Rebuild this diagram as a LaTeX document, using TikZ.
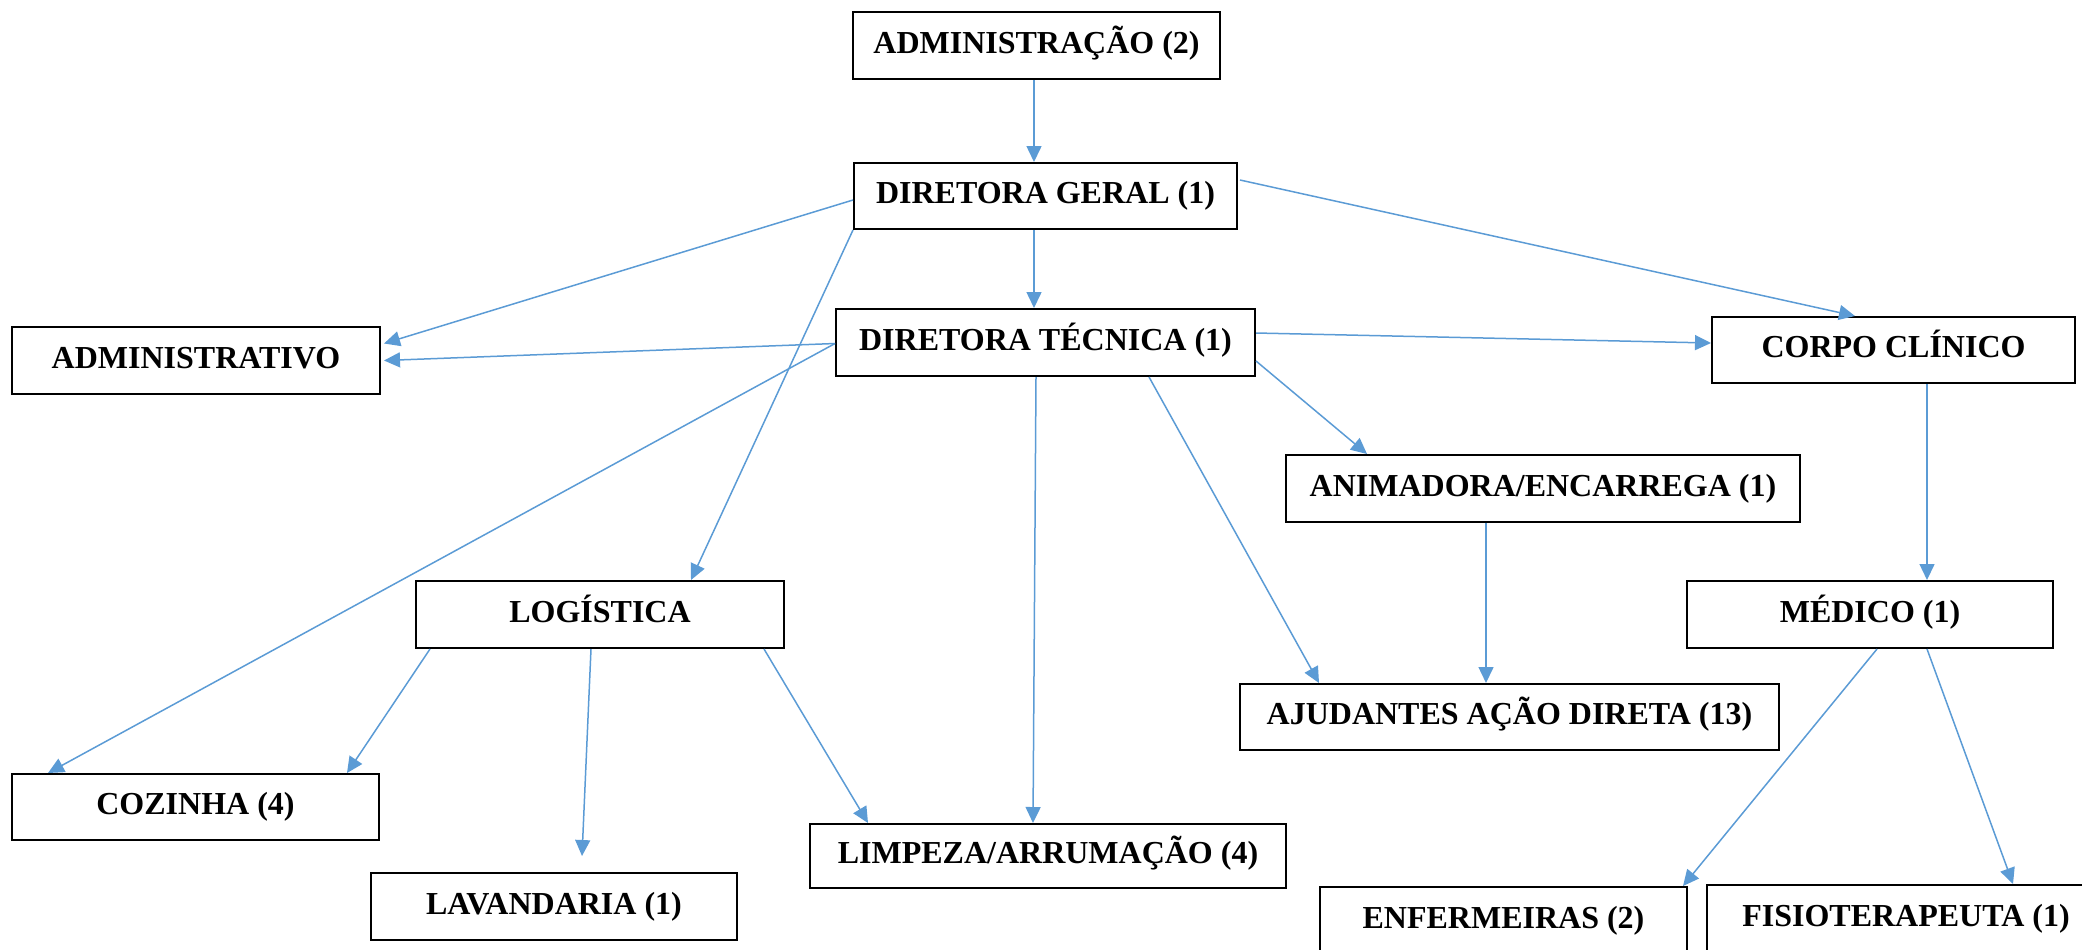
\documentclass[tikz,border=0pt]{standalone}
\usepackage{fontspec}
\setmainfont{Liberation Serif}
\usetikzlibrary{calc,arrows.meta}
\definecolor{arrowblue}{HTML}{5B9BD5}
\tikzset{
  box/.style={draw=black, line width=1pt, rectangle, inner sep=0pt,
    font=\fontsize{16pt}{19pt}\selectfont\bfseries, text height=11.2pt, text depth=3.5pt},
  link/.style={draw=arrowblue, line width=0.75pt, -{Triangle[length=8pt,width=7.5pt]}}
}
\begin{document}
\begin{tikzpicture}[x=0.5pt,y=-0.5pt]
\useasboundingbox (0,0) rectangle (2082,949);
\clip (0,0) rectangle (2082,949);
\node[box, minimum width=183.5pt, minimum height=33.5pt] (adm)  at (1036.5,45.5) {ADMINISTRAÇÃO (2)};
\node[box, minimum width=191.5pt, minimum height=33pt]   (dg)   at (1045.5,196) {DIRETORA GERAL (1)};
\node[box, minimum width=209.5pt, minimum height=33.5pt] (dt)   at (1045.5,342.5) {DIRETORA TÉCNICA (1)};
\node[box, minimum width=184pt,   minimum height=33.5pt] (admv) at (196,360.5) {ADMINISTRATIVO};
\node[box, minimum width=181.5pt, minimum height=33pt]   (cc)   at (1893.5,350) {CORPO CLÍNICO};
\node[box, minimum width=257pt,   minimum height=33.5pt] (anim) at (1543,488.5) {ANIMADORA/ENCARREGA (1)};
\node[box, minimum width=184pt,   minimum height=33.5pt] (log)  at (600,614.5) {LOGÍSTICA};
\node[box, minimum width=183pt,   minimum height=33.5pt] (med)  at (1870,614.5) {MÉDICO (1)};
\node[box, minimum width=269.5pt, minimum height=33pt]   (ajud) at (1509.5,717) {AJUDANTES AÇÃO DIRETA (13)};
\node[box, minimum width=183.5pt, minimum height=33pt]   (coz)  at (195.5,807) {COZINHA (4)};
\node[box, minimum width=183pt,   minimum height=33.5pt] (lav)  at (554,906.5) {LAVANDARIA (1)};
\node[box, minimum width=238pt,   minimum height=32pt]   (limp) at (1048,856) {LIMPEZA/ARRUMAÇÃO (4)};
\node[box, minimum width=183.5pt, minimum height=33.5pt] (enf)  at (1503.5,920.5) {ENFERMEIRAS (2)};
\node[box, minimum width=199pt,   minimum height=33.5pt] (fis)  at (1906,918.5) {FISIOTERAPEUTA (1)};

\draw[link] ($(adm.south west)+(182,0)$) -- ($(dg.north west)+(181,0)$);
\draw[link] ($(dg.south west)+(181,0)$) -- ($(dt.north west)+(199,0)$);
\draw[link] ($(dg.west)+(0,4)$) -- ($(admv.east)+(3,-17)$);
\draw[link] (dg.south west) -- ($(log.north west)+(276,0)$);
\draw[link] ($(dg.east)+(2,-16)$) -- ($(cc.north west)+(144,0)$);
\draw[link] ($(dt.west)+(0,1)$) -- ($(admv.east)+(3,0)$);
\draw[link] ($(dt.west)+(0,1)$) -- ($(coz.north west)+(37,0)$);
\draw[link] ($(dt.east)+(0,-9.5)$) -- ($(cc.west)+(0,-7)$);
\draw[link] ($(dt.east)+(0,18.5)$) -- ($(anim.north west)+(82,0)$);
\draw[link] ($(dt.south west)+(201,0)$) -- ($(limp.north west)+(224,0)$);
\draw[link] ($(dt.south west)+(314,0)$) -- ($(ajud.north west)+(80,0)$);
\draw[link] ($(anim.south west)+(201,0)$) -- ($(ajud.north west)+(247,0)$);
\draw[link] ($(cc.south west)+(216,0)$) -- ($(med.north west)+(241,0)$);
\draw[link] ($(log.south west)+(15,0)$) -- ($(coz.north west)+(336,0)$);
\draw[link] ($(log.south west)+(176,0)$) -- ($(lav.north west)+(212,-16)$);
\draw[link] ($(log.south west)+(349,0)$) -- ($(limp.north west)+(59,0)$);
\draw[link] ($(med.south west)+(191,0)$) -- ($(enf.north west)+(364,0)$);
\draw[link] ($(med.south west)+(241,0)$) -- ($(fis.north west)+(307,0)$);
\end{tikzpicture}
\end{document}
